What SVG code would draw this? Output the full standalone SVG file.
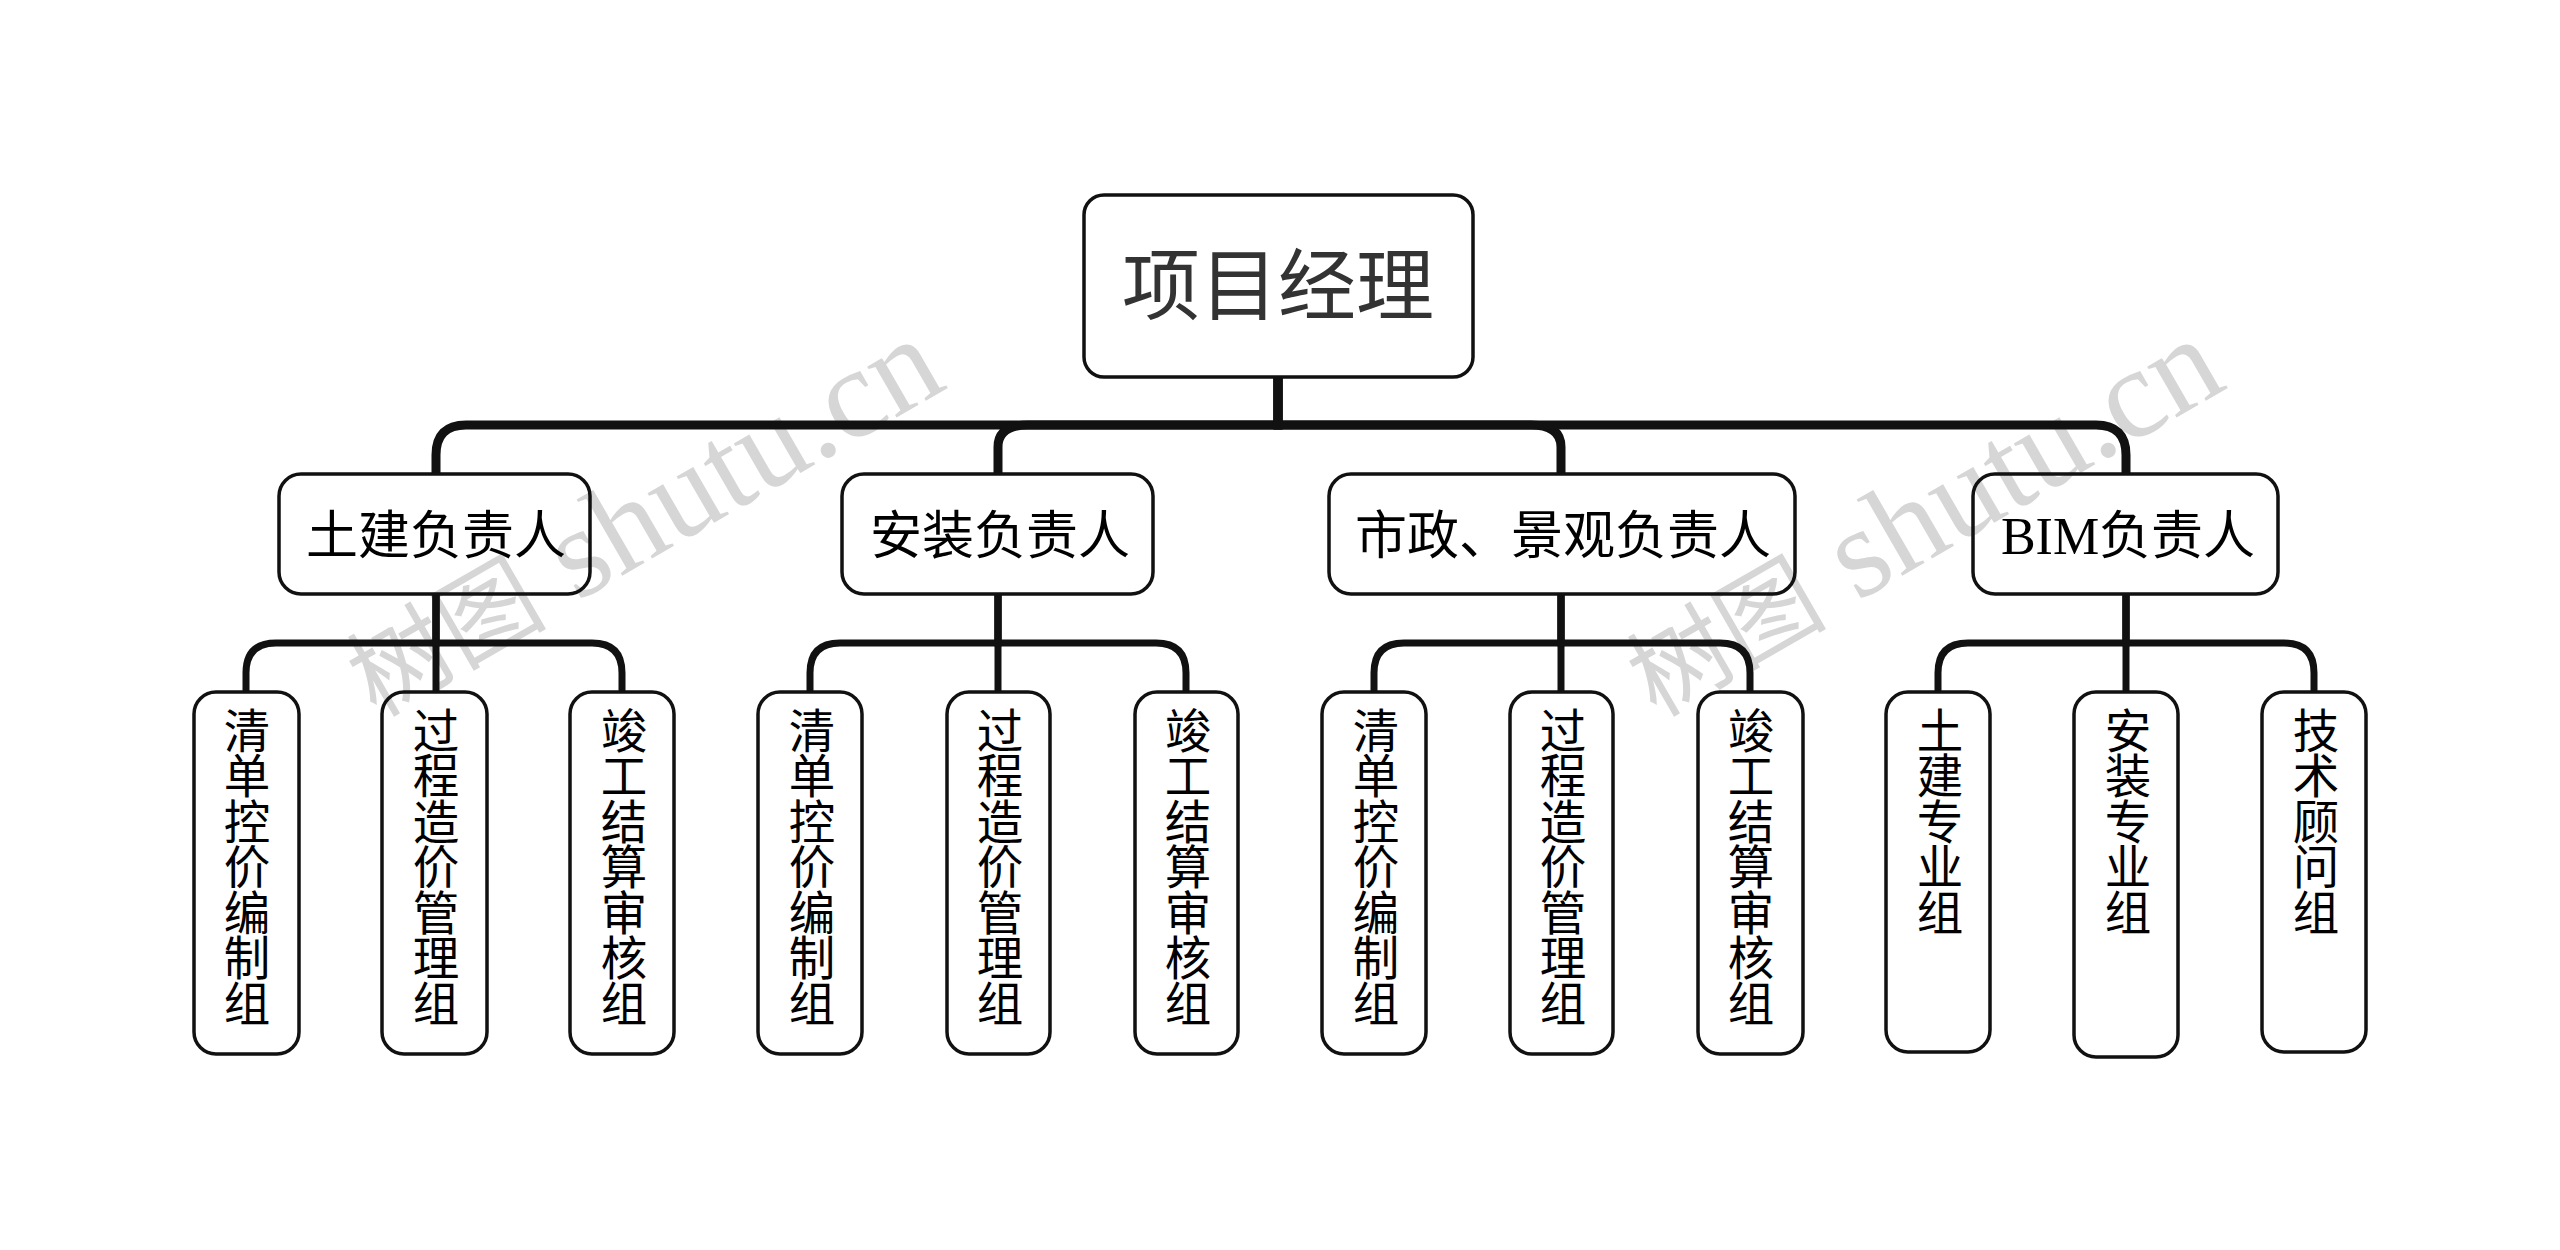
<svg xmlns="http://www.w3.org/2000/svg" width="2560" height="1250" viewBox="0 0 2560 1250">
<style>
text{font-family:"Liberation Serif","Noto Sans CJK SC",sans-serif;fill:#000}
.box{fill:none;stroke:#111;stroke-width:3.5}
.l0{font-size:78px;fill:#333;text-anchor:middle;font-family:"Noto Sans CJK SC",sans-serif}
.l1{font-size:52px;text-anchor:middle}
.l2{font-size:46.5px;letter-spacing:-1px;writing-mode:vertical-rl;text-orientation:upright}
.c0{fill:none;stroke:#111;stroke-width:9}
.c1{fill:none;stroke:#111;stroke-width:7}
.wm{font-size:128px;fill:#d6d6d6;font-family:"Liberation Serif","Noto Sans CJK SC",serif}
.wm tspan{font-size:100px}
</style>
<rect width="2560" height="1250" fill="#fff"/>
<g id="watermarks">
<text class="wm" transform="translate(376 718) rotate(-30)"><tspan>树图</tspan> shutu.cn</text>
<text class="wm" transform="translate(1656 718) rotate(-30)"><tspan>树图</tspan> shutu.cn</text>
</g>
<g id="connectors">
<path class="c0" d="M1278 377V425H466Q436 425 436 455V474"/>
<path class="c0" d="M1278 377V425H1028Q998 425 998 447V474"/>
<path class="c0" d="M1278 377V425H1531Q1561 425 1561 447V474"/>
<path class="c0" d="M1278 377V425H2096Q2126 425 2126 455V474"/>
<path class="c1" d="M436 594V643H276Q246 643 246 673V692"/>
<path class="c1" d="M436 594V692"/>
<path class="c1" d="M436 594V643H592Q622 643 622 673V692"/>
<path class="c1" d="M998 594V643H840Q810 643 810 673V692"/>
<path class="c1" d="M998 594V692"/>
<path class="c1" d="M998 594V643H1156Q1186 643 1186 673V692"/>
<path class="c1" d="M1561 594V643H1404Q1374 643 1374 673V692"/>
<path class="c1" d="M1561 594V692"/>
<path class="c1" d="M1561 594V643H1720Q1750 643 1750 673V692"/>
<path class="c1" d="M2126 594V643H1968Q1938 643 1938 673V692"/>
<path class="c1" d="M2126 594V692"/>
<path class="c1" d="M2126 594V643H2284Q2314 643 2314 673V692"/>
</g>
<g id="root"><rect class="box" x="1084" y="195" width="389" height="182" rx="20"/><text class="l0" x="1278" y="314">项目经理</text></g>
<g id="n1"><rect class="box" x="279" y="474" width="311" height="120" rx="22"/><text class="l1" x="436" y="554">土建负责人</text></g>
<g id="n2"><rect class="box" x="842" y="474" width="311" height="120" rx="22"/><text class="l1" x="1000" y="554">安装负责人</text></g>
<g id="n3"><rect class="box" x="1329" y="474" width="466" height="120" rx="22"/><text class="l1" x="1563" y="554">市政、景观负责人</text></g>
<g id="n4"><rect class="box" x="1973" y="474" width="305" height="120" rx="22"/><text class="l1" x="2128" y="554">BIM负责人</text></g>
<g id="n1a"><rect class="box" x="194" y="692" width="105" height="362" rx="22"/><text class="l2" x="242" y="707">清单控价编制组</text></g>
<g id="n1b"><rect class="box" x="382" y="692" width="105" height="362" rx="22"/><text class="l2" x="431" y="707">过程造价管理组</text></g>
<g id="n1c"><rect class="box" x="570" y="692" width="104" height="362" rx="22"/><text class="l2" x="619" y="707">竣工结算审核组</text></g>
<g id="n2a"><rect class="box" x="758" y="692" width="104" height="362" rx="22"/><text class="l2" x="807" y="707">清单控价编制组</text></g>
<g id="n2b"><rect class="box" x="947" y="692" width="103" height="362" rx="22"/><text class="l2" x="995" y="707">过程造价管理组</text></g>
<g id="n2c"><rect class="box" x="1135" y="692" width="103" height="362" rx="22"/><text class="l2" x="1183" y="707">竣工结算审核组</text></g>
<g id="n3a"><rect class="box" x="1322" y="692" width="104" height="362" rx="22"/><text class="l2" x="1371" y="707">清单控价编制组</text></g>
<g id="n3b"><rect class="box" x="1510" y="692" width="103" height="362" rx="22"/><text class="l2" x="1558" y="707">过程造价管理组</text></g>
<g id="n3c"><rect class="box" x="1698" y="692" width="105" height="362" rx="22"/><text class="l2" x="1746" y="707">竣工结算审核组</text></g>
<g id="n4a"><rect class="box" x="1886" y="692" width="104" height="360" rx="22"/><text class="l2" x="1935" y="707">土建专业组</text></g>
<g id="n4b"><rect class="box" x="2074" y="692" width="104" height="365" rx="22"/><text class="l2" x="2123" y="707">安装专业组</text></g>
<g id="n4c"><rect class="box" x="2262" y="692" width="104" height="360" rx="22"/><text class="l2" x="2311" y="707">技术顾问组</text></g>
</svg>
